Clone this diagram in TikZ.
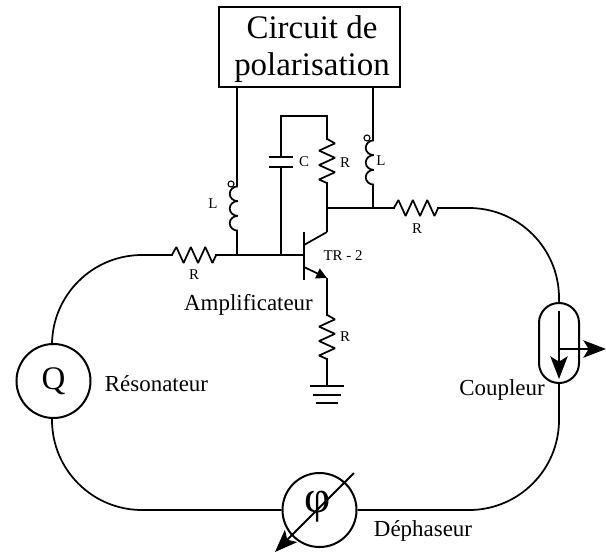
\documentclass[tikz,border=0pt]{standalone}
\usepackage{fontspec}
\setmainfont{Liberation Serif}
\usepackage[american]{circuitikz}
\usetikzlibrary{calc,arrows.meta}
\ctikzset{bipoles/thickness=1, inductors/coils=3, bipoles/capacitor/height=.46, bipoles/capacitor/width=.18}
\tikzset{
	big/.style={font=\fontsize{24.7}{26}\selectfont, inner sep=0pt},
	mid/.style={font=\fontsize{17.2}{19}\selectfont, inner sep=0pt},
	small/.style={font=\fontsize{11.2}{13}\selectfont, inner sep=0pt},
	round/.style={circle, draw, line width=1.5pt, minimum size=55.5pt, inner sep=0pt},
	polar/.style={circle, draw, line width=0.8pt, minimum size=4.5pt, inner sep=0pt},
	tip/.style={-{Stealth[length=17pt,width=13pt,inset=4pt]}, line width=1.5pt},
}
\begin{document}
\begin{tikzpicture}[x=0.75pt, y=-0.75pt, line width=1.3pt]
	\useasboundingbox (0,0) rectangle (606,554);
	\node[draw, line width=1.5pt, minimum width=135.75pt, minimum height=60pt, inner sep=0pt] (biasbox) at (309.5,47) {};
	\node[big] (biastext1) at (312,27) {Circuit de};
	\node[big] (biastext2) at (312,68) {polarisation};

	\node[round] (Q) at (53.5,381) {};
	\node[big] at (Q) {Q};
	\node[round] (phase) at (319.5,510) {};
	\node[draw, line width=1.5pt, minimum width=30pt, minimum height=60pt, rounded corners=14.9pt, inner sep=0pt] (coupler) at (559,343) {};

	\coordinate (trB) at (304,255);
	\coordinate (trC) at (327,232);
	\coordinate (trE) at (327,278);
	\coordinate (Bleft) at (237,255);
	\coordinate (Bcap) at (281,255);
	\coordinate (Cright) at (373,208);
	\coordinate (Ctop) at (327,208);

	% transistor
	\draw (304,232) -- (304,280);
	\draw (304,245) -- (trC);
	\draw[-{Triangle[length=8pt,width=8pt]}] (304,267) -- (trE);

	% bias lines
	\draw (biasbox.south -| Bleft) -- ($(Bleft)+(0,-77)$) to[american inductor, mirror] ($(Bleft)+(0,-16)$) -- (Bleft);
	\draw (biasbox.south -| Cright) -- ($(Cright)+(0,-76)$) to[american inductor, mirror] ($(Cright)+(0,-15)$) -- (Cright);
	\node[polar] (dotL1) at (231,184) {};
	\node[polar] (dotL2) at (367,138) {};

	% feedback
	\draw (Bcap) -- ($(Bcap)+(0,-59)$) to[C] ($(Bcap)+(0,-127)$) -- ($(Bcap)+(0,-139)$) -| ($(Ctop)+(0,-78)$) to[R] ($(Ctop)+(0,-16)$) -- (trC);
	\draw (Ctop) -- (Cright);

	% ring
	\draw[rounded corners=67.5pt] (52,344) |- (168,255);
	\draw (168,255) to[R] (220,255) -- (trB);
	\draw (Cright) -- (390,208) to[R] (442,208);
	\draw[rounded corners=67.5pt] (442,208) -| (coupler.north);
	\draw[rounded corners=67.5pt] (coupler.south) |- (phase.east);
	\draw[rounded corners=67.5pt] (52,418) |- (phase.west);

	% emitter
	\draw (trE) -- ($(trE)+(0,31)$) to[R] ($(trE)+(0,87)$) -- ($(trE)+(0,108)$) coordinate (gnd);
	\draw ($(gnd)+(-17,0)$) -- ($(gnd)+(17,0)$);
	\draw ($(gnd)+(-14,9)$) -- ($(gnd)+(14,9)$);
	\draw ($(gnd)+(-11,17)$) -- ($(gnd)+(11,17)$);

	% coupler and phase arrows
	\draw[tip] (559,311) -- (559,379);
	\draw[tip] (559,349) -- (606,349);
	\node[font=\fontsize{34}{36}\selectfont, inner sep=0pt] (phi) at (318,507) {φ};
	\draw[tip] (354,473) -- (275,552);

	% labels
	\node[small] (labL1) at (213,204) {L};
	\node[small] (labC) at (304,162) {C};
	\node[small] (labR1) at (345,163) {R};
	\node[small] (labL2) at (381,161) {L};
	\node[small] (labR2) at (417,229) {R};
	\node[small] (labR3) at (194,275) {R};
	\node[small] (labR4) at (345,337) {R};
	\node[small] (labTR) at (343,256) {TR - 2};
	\node[mid] (amp) at (248.5,305) {Amplificateur};
	\node[mid] (res) at (156.5,384) {Résonateur};
	\node[mid] (coup) at (502,390) {Coupleur};
	\node[mid] (dep) at (423,531) {Déphaseur};
\end{tikzpicture}
\end{document}
